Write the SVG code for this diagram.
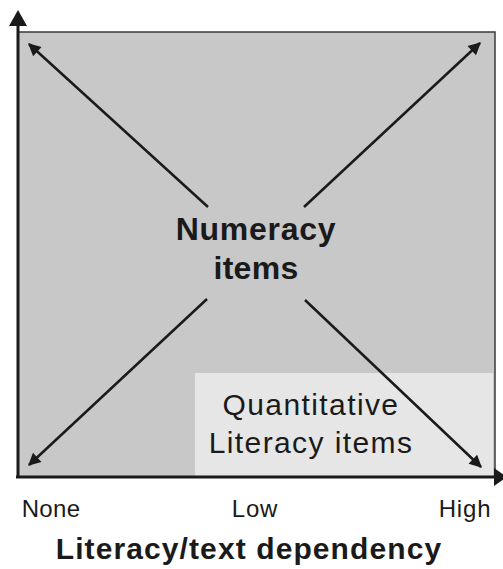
<svg xmlns="http://www.w3.org/2000/svg" width="503" height="569" viewBox="0 0 503 569">
<style>
.ax{stroke:#1a1a1a;stroke-width:3;fill:none}
.arr{stroke:#1a1a1a;stroke-width:2.5;fill:none;marker-end:url(#ah)}
.t{font-family:"Liberation Sans",Arial,sans-serif;fill:#1a1a1a;text-anchor:middle}
.b{font-weight:bold}
</style>
<defs>
<marker id="ah" viewBox="0 0 10 10" refX="9" refY="5" markerWidth="6" markerHeight="5" markerUnits="strokeWidth" orient="auto">
<path d="M0,0 L10,5 L0,10 Z" fill="#1a1a1a"/>
</marker>
</defs>
<g id="plot-area">
<rect x="18" y="32" width="477" height="445" fill="#c8c8c8" stroke="#3a3a3a" stroke-width="1.5"/>
</g>
<g id="quantitative-literacy">
<rect x="195" y="373" width="298" height="103" fill="#e6e6e6"/>
<text class="t" x="311" y="415" font-size="30" letter-spacing="1.4">Quantitative</text>
<text class="t" x="311" y="453" font-size="30" letter-spacing="1.4">Literacy items</text>
</g>
<g id="numeracy">
<text class="t b" x="256" y="240" font-size="32" letter-spacing="0.7">Numeracy</text>
<text class="t b" x="256" y="279" font-size="32" letter-spacing="0.3">items</text>
</g>
<g id="connectors">
<line class="ax" x1="18" y1="478" x2="18" y2="24"/>
<polygon points="18,10 9,26 27,26" fill="#1a1a1a"/>
<line class="ax" x1="16" y1="477" x2="494" y2="477"/>
<polygon points="507,477 494,468 494,486" fill="#1a1a1a"/>
<line class="arr" x1="208" y1="207" x2="29" y2="44"/>
<line class="arr" x1="304" y1="207" x2="480" y2="43"/>
<line class="arr" x1="207" y1="299" x2="29" y2="465"/>
<line class="arr" x1="305" y1="300" x2="481" y2="467"/>
</g>
<g id="axis-labels">
<text class="t" x="51" y="517" font-size="24" letter-spacing="0.3">None</text>
<text class="t" x="255" y="517" font-size="24" letter-spacing="0.8">Low</text>
<text class="t" x="465" y="517" font-size="24" letter-spacing="0.8">High</text>
<text class="t b" x="249" y="559" font-size="30" letter-spacing="1.1">Literacy/text dependency</text>
</g>
</svg>
